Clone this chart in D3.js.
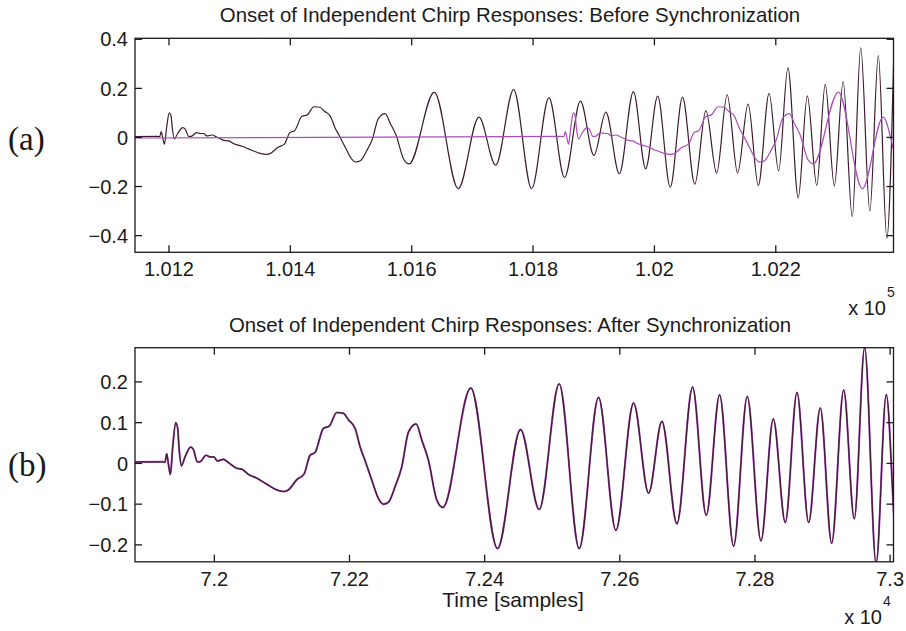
<!DOCTYPE html>
<html>
<head>
<meta charset="utf-8">
<script src="https://cdn.jsdelivr.net/npm/d3@7"></script>
<style>
    body { margin: 0; background: #fff; }
    svg text { font-family: "Liberation Sans", Arial, Helvetica, sans-serif; fill: #1a1a1a; }
</style>
</head>
<body>
<div id="chart"></div>
<script>
const width = 906;
const height = 631;

// chirp response around its first spike: lag [samples] and amplitude
const chirpLag = [-800, -20, -15.8, -13.3, -10.9, -7.9, -4.4, 0, 3.0, 4.9, 8.4, 13.8, 22.2, 26.2,
    32.1, 36, 44.9, 50.8, 56.7, 61.7, 70.6, 78, 90.3, 97.7, 107.6, 119.9, 134.7, 149.5, 160.4,
    166.8, 179.1, 190, 198.9, 206.3, 218.6, 227.5, 238.3, 248.2, 255.6, 265.5, 273, 280, 290,
    300, 307.5, 315, 324.7, 334.6, 344.5, 355.8, 364.2, 374, 386.4, 395.3, 436.7, 476.2, 510.3,
    537.9, 567.5, 597.1, 625.7, 651.4, 677.6, 699.8, 719.5, 741.7, 764.9, 785.1, 804.9, 825.6,
    845.8, 866.1, 884.3, 902.1, 919.4, 936.6, 953.9, 970.7, 988.5, 1004.2, 1019.5, 1036.5,
    1051.5, 1067, 1081, 1096, 1110.5, 1125.5, 1139.5, 1154.5, 1168.5, 1182.5, 1195];
const chirpAmp = [-0.003, 0.004, 0.003, 0.024, 0.0, -0.027, 0.04, 0.1, 0.086, 0.04, -0.006, 0.016,
    0.04, 0.034, 0.004, 0.004, 0.02, 0.016, 0.016, 0.006, 0.01, 0.002, -0.012, -0.014, -0.027,
    -0.036, -0.051, -0.065, -0.069, -0.065, -0.04, -0.026, 0.02, 0.027, 0.086, 0.092, 0.125,
    0.123, 0.107, 0.086, 0.04, 0.008, -0.04, -0.086, -0.1, -0.095, -0.057, -0.008, 0.077, 0.097,
    0.057, 0.008, -0.09, -0.108, 0.185, -0.209, 0.083, -0.113, 0.195, -0.209, 0.162, -0.164,
    0.148, -0.073, 0.103, -0.148, 0.187, -0.127, 0.168, -0.203, 0.164, -0.19, 0.109, -0.145,
    0.174, -0.145, 0.136, -0.196, 0.18, -0.136, 0.284, -0.246, 0.169, -0.195, 0.216, -0.197,
    0.228, -0.322, 0.365, -0.30, 0.333, -0.41, 0.44];

// sample index of the first spike for each trace
const onsetA1 = 101200.5;
const onsetA2 = 101866.5;
const onsetB1 = 71942.8;
const onsetB2 = 71942.8;

const xDomainA = [101144, 102394];
const yDomainA = [-0.468, 0.404];
const xTicksA = [101200, 101400, 101600, 101800, 102000, 102200];
const xTickLabelsA = ["1.012", "1.014", "1.016", "1.018", "1.02", "1.022"];
const yTicksA = [-0.4, -0.2, 0, 0.2, 0.4];
const yTickLabelsA = ["\u22120.4", "\u22120.2", "0", "0.2", "0.4"];

const xDomainB = [71882.6, 73005];
const yDomainB = [-0.2415, 0.284];
const xTicksB = [72000, 72200, 72400, 72600, 72800, 73000];
const xTickLabelsB = ["7.2", "7.22", "7.24", "7.26", "7.28", "7.3"];
const yTicksB = [-0.2, -0.1, 0, 0.1, 0.2];
const yTickLabelsB = ["\u22120.2", "\u22120.1", "0", "0.1", "0.2"];

const titles = ["Onset of Independent Chirp Responses: Before Synchronization",
    "Onset of Independent Chirp Responses: After Synchronization"];
const panelTags = ["(a)", "(b)"];
const exponents = ["5", "4"];

const darkColor = "#3e1c30";
const magColor = "#a94cba";

const svg = d3.select("#chart").append("svg")
    .attr("width", width)
    .attr("height", height);
svg.append("rect").attr("width", width).attr("height", height).attr("fill", "#fff");

/**
 * Draw one MATLAB-like subplot
 */
function drawPanel(p) {
    const x = d3.scaleLinear().domain(p.xDomain).range([p.left, p.right]);
    const y = d3.scaleLinear().domain(p.yDomain).range([p.bottom, p.top]);
    const g = svg.append("g");

    const clipId = "clip" + p.idx;
    g.append("clipPath").attr("id", clipId)
        .append("rect")
            .attr("x", p.left).attr("y", p.top)
            .attr("width", p.right - p.left).attr("height", p.bottom - p.top);

    const line = d3.line()
        .x(d => x(d[0]))
        .y(d => y(d[1]))
        .curve(d3.curveMonotoneX);

    // lines are clipped to the axes box
    const plot = g.append("g").attr("clip-path", `url(#${clipId})`);
    p.traces.forEach(t => {
        const pts = chirpLag.map((l, i) => [t.onset + l, chirpAmp[i]]);
        plot.append("path")
            .datum(pts)
            .attr("fill", "none")
            .attr("stroke", t.color)
            .attr("stroke-width", t.width)
            .attr("stroke-linejoin", "round")
            .attr("d", line);
    });

    // box with inward ticks on all sides
    const tickLen = 7;
    const ax = g.append("g").attr("stroke", "#1a1a1a").attr("stroke-width", 1.3);
    p.xTicks.forEach(v => {
        ax.append("line").attr("x1", x(v)).attr("x2", x(v))
            .attr("y1", p.bottom).attr("y2", p.bottom - tickLen);
        ax.append("line").attr("x1", x(v)).attr("x2", x(v))
            .attr("y1", p.top).attr("y2", p.top + tickLen);
    });
    p.yTicks.forEach(v => {
        ax.append("line").attr("x1", p.left).attr("x2", p.left + tickLen)
            .attr("y1", y(v)).attr("y2", y(v));
        ax.append("line").attr("x1", p.right).attr("x2", p.right - tickLen)
            .attr("y1", y(v)).attr("y2", y(v));
    });
    ax.append("rect")
        .attr("x", p.left).attr("y", p.top)
        .attr("width", p.right - p.left).attr("height", p.bottom - p.top)
        .attr("fill", "none");

    g.selectAll(".xl").data(p.xTicks).join("text")
        .attr("x", d => x(d))
        .attr("y", p.bottom + 24)
        .attr("text-anchor", "middle")
        .attr("font-size", 20)
        .text((d, i) => p.xTickLabels[i]);

    g.selectAll(".yl").data(p.yTicks).join("text")
        .attr("x", p.left - 7)
        .attr("y", d => y(d))
        .attr("dy", "0.36em")
        .attr("text-anchor", "end")
        .attr("font-size", 20)
        .text((d, i) => p.yTickLabels[i]);

    g.append("text")
        .attr("x", 510)
        .attr("y", p.top - 16)
        .attr("text-anchor", "middle")
        .attr("font-size", 20.4)
        .text(p.title);

    // exponent label under the x axis
    g.append("text")
        .attr("x", p.expX)
        .attr("y", p.bottom + 62.5)
        .attr("text-anchor", "end")
        .attr("font-size", 20)
        .text("x 10");
    g.append("text")
        .attr("x", p.expX + 1)
        .attr("y", p.bottom + 44.5)
        .attr("font-size", 14)
        .text(p.exponent);

    g.append("text")
        .attr("x", 8)
        .attr("y", y(0) + 13)
        .style("font-family", "'Liberation Serif', 'DejaVu Serif', serif")
        .attr("font-size", 33)
        .text(p.tag);
}

drawPanel({
    idx: 0, left: 135, right: 893.5, top: 38.3, bottom: 252.3,
    xDomain: xDomainA, yDomain: yDomainA,
    xTicks: xTicksA, xTickLabels: xTickLabelsA,
    yTicks: yTicksA, yTickLabels: yTickLabelsA,
    title: titles[0], tag: panelTags[0], exponent: exponents[0], expX: 886,
    traces: [
        {onset: onsetA1, color: darkColor, width: 1.2},
        {onset: onsetA2, color: magColor, width: 1.2}
    ]
});

drawPanel({
    idx: 1, left: 135, right: 893.5, top: 347.7, bottom: 561.8,
    xDomain: xDomainB, yDomain: yDomainB,
    xTicks: xTicksB, xTickLabels: xTickLabelsB,
    yTicks: yTicksB, yTickLabels: yTickLabelsB,
    title: titles[1], tag: panelTags[1], exponent: exponents[1], expX: 882,
    traces: [
        {onset: onsetB2, color: magColor, width: 2.0},
        {onset: onsetB1, color: darkColor, width: 1.2}
    ]
});

svg.append("text")
    .attr("x", 513)
    .attr("y", 607)
    .attr("text-anchor", "middle")
    .attr("font-size", 21)
    .text("Time [samples]");
</script>
</body>
</html>
